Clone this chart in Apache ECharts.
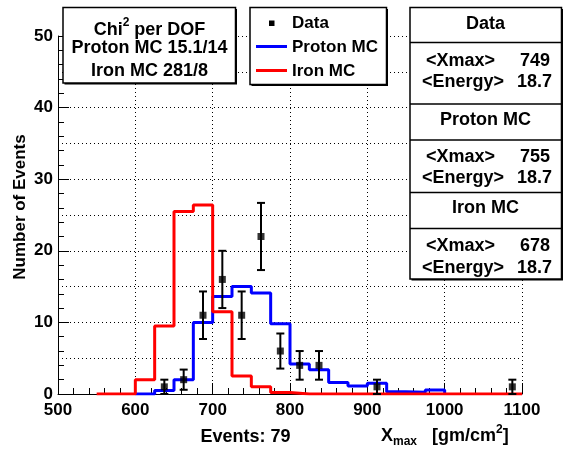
<!DOCTYPE html>
<html><head><meta charset="utf-8">
<script src="https://cdn.jsdelivr.net/npm/echarts@6/dist/echarts.min.js"></script>
<style>html,body{margin:0;padding:0;background:#fff}#c{width:571px;height:449px}</style>
</head><body><div id="c"></div>
<script>
// ---- data ----
const ironEdges   = [550,575,600,625,650,675,700,725,750,775,800,825,850,875,900,925,950,975,1000,1025,1050,1075,1100];
const ironMC      = [0,0,2,9.5,25.5,26.4,11.5,2.5,1,0.2,0,0,0,0,0,0,0,0,0,0,0,0];
const protonEdges = [600,625,650,675,700,725,750,775,800,825,850,875,900,925,950,975,1000];
const protonMC    = [0,0.5,2,10,13.6,15,14.1,9.8,4.2,3.4,1.6,1.1,1.5,0.3,0.25,0.55];
const dataX   = [637.5,662.5,687.5,712.5,737.5,762.5,787.5,812.5,837.5,912.5,1087.5];
const dataN   = [1,2,11,16,11,22,6,4,4,1,1];
const dataErr = [1,1.41,3.32,4,3.32,4.69,2.45,2,2,1,1];
const chiLines  = ['Proton MC 15.1/14','Iron MC 281/8'];
const legendNames = ['Data','Proton MC','Iron MC'];
const statsTitles = ['Data','Proton MC','Iron MC'];
const statsXmax   = ['749','755','678'];
const statsEnergy = ['18.7','18.7','18.7'];
const eventsText = 'Events: 79';

const FONT = '"Liberation Sans", Arial, Helvetica, sans-serif';
function f(sz){ return 'bold ' + sz + 'px ' + FONT; }

function stepData(edges, vals){
  const pts = vals.map((v,i)=>[edges[i], v]);
  const n = vals.length;
  pts.push([edges[n], vals[n-1]]);
  pts.push([edges[n], 0]);
  return pts;
}

const chart = echarts.init(document.getElementById('c'), null, {renderer:'canvas'});

const Z = 100;
function boxEls(x,y,w,h){
  return [
    {type:'rect', z:Z, shape:{x:x+1.5,y:y+1.5,width:w,height:h}, style:{fill:'#000'}},
    {type:'rect', z:Z+1, shape:{x:x,y:y,width:w,height:h}, style:{fill:'#fff', stroke:'#000', lineWidth:1.5}}
  ];
}
function txt(x,y,text,sz,align){
  return {type:'text', z:Z+3, style:{text:text, x:x, y:y, font:f(sz), fill:'#000', align:align||'center', verticalAlign:'middle'}};
}

const g = [];
// Chi2 box
g.push(...boxEls(63,7.5,172.5,75.5));
g.push({type:'text', z:Z+3, style:{x:149.5, y:28, align:'center', verticalAlign:'middle', fill:'#000',
  text:'{a|Chi}{s|2}{a| per DOF}',
  rich:{a:{font:f(18), lineHeight:22, verticalAlign:'bottom'}, s:{font:f(12), verticalAlign:'top'}}}});
g.push(txt(149.5,48.5,chiLines[0],18));
g.push(txt(149.5,71,chiLines[1],18));
// legend box
g.push(...boxEls(250,7.5,136.5,77));
g.push({type:'rect', z:Z+2, shape:{x:269,y:20.5,width:5.5,height:5.5}, style:{fill:'#000'}});
g.push({type:'line', z:Z+2, shape:{x1:256,y1:46.5,x2:287,y2:46.5}, style:{stroke:'#0000ff', lineWidth:3}});
g.push({type:'line', z:Z+2, shape:{x1:256,y1:70.5,x2:287,y2:70.5}, style:{stroke:'#ff0000', lineWidth:3}});
g.push(txt(292,23.5,legendNames[0],17,'left'));
g.push(txt(292,47,legendNames[1],17,'left'));
g.push(txt(292,71,legendNames[2],17,'left'));
// stats box
g.push(...boxEls(410,7.5,151.5,271.5));
[42.5,104,140,192.5,228.5].forEach(yy=>g.push({type:'line', z:Z+2, shape:{x1:410,y1:yy,x2:561.5,y2:yy}, style:{stroke:'#000', lineWidth:1.5}}));
const titleY = [24,120,208], xmY = [61,157,246.5], enY = [82.5,178,268];
for (let i=0;i<3;i++){
  g.push(txt(485.5,titleY[i],statsTitles[i],18));
  g.push(txt(426,xmY[i],'<Xmax>',18,'left'));
  g.push(txt(550,xmY[i],statsXmax[i],18,'right'));
  g.push(txt(422,enY[i],'<Energy>',18,'left'));
  g.push(txt(552,enY[i],statsEnergy[i],18,'right'));
}
// axis titles
g.push({type:'text', z:Z, x:20, y:207, rotation:Math.PI/2, style:{text:'Number of Events', x:0, y:0, font:f(17), fill:'#000', align:'center', verticalAlign:'middle'}});
g.push(txt(245.5,437,eventsText,18));
g.push({type:'text', z:Z, style:{x:381, y:436, align:'left', verticalAlign:'middle', fill:'#000',
  text:'{a|X}{b|max}{a|   [gm/cm}{s|2}{a|]}',
  rich:{a:{font:f(18), lineHeight:24, verticalAlign:'middle'}, b:{font:f(12), verticalAlign:'bottom'}, s:{font:f(12), verticalAlign:'top'}}}});

const option = {
  animation:false,
  backgroundColor:'#fff',
  grid:{left:58, right:49, top:36, bottom:55, containLabel:false},
  xAxis:{
    type:'value', min:500, max:1100, interval:100,
    axisLine:{show:true, onZero:false, lineStyle:{color:'#000', width:1}},
    axisTick:{show:true, inside:true, length:11, lineStyle:{color:'#000'}},
    minorTick:{show:true, splitNumber:5, length:6, lineStyle:{color:'#000'}},
    axisLabel:{fontSize:17, fontWeight:'bold', fontFamily:FONT, color:'#000', margin:8, showMinLabel:true, showMaxLabel:true,
      formatter:function(v){ return String(v); }},
    splitLine:{show:true, lineStyle:{color:'#000', width:1, type:[1,3]}}
  },
  yAxis:[{
    type:'value', min:0, max:50, interval:10,
    axisLine:{show:true, onZero:false, lineStyle:{color:'#000', width:1}},
    axisTick:{show:true, inside:true, length:11, lineStyle:{color:'#000'}},
    minorTick:{show:true, splitNumber:5, length:6, lineStyle:{color:'#000'}},
    axisLabel:{fontSize:17, fontWeight:'bold', fontFamily:FONT, color:'#000', margin:5},
    splitLine:{show:false}
  },{
    type:'value', min:0, max:50, interval:5, position:'left',
    axisLine:{show:false}, axisTick:{show:false}, axisLabel:{show:false},
    splitLine:{show:true, lineStyle:{color:'#000', width:1, type:[1,3]}}
  }],
  series:[
    {type:'line', step:'end', data:stepData(protonEdges, protonMC), showSymbol:false, symbol:'none',
     lineStyle:{color:'#0000ff', width:3}, z:3},
    {type:'line', step:'end', data:stepData(ironEdges, ironMC), showSymbol:false, symbol:'none',
     lineStyle:{color:'#ff0000', width:3}, z:4},
    {type:'custom', z:5, data:dataX.map((x,i)=>[x,dataN[i],dataErr[i]]), encode:{x:0,y:1},
     renderItem:function(params, api){
       const x=api.value(0), y=api.value(1), e=api.value(2);
       const t=api.coord([x,y+e]), b=api.coord([x,y-e]);
       const c=4, st={stroke:'#000', lineWidth:2};
       return {type:'group', children:[
         {type:'line', shape:{x1:t[0],y1:t[1],x2:b[0],y2:b[1]}, style:st},
         {type:'line', shape:{x1:t[0]-c,y1:t[1],x2:t[0]+c,y2:t[1]}, style:st},
         {type:'line', shape:{x1:b[0]-c,y1:b[1],x2:b[0]+c,y2:b[1]}, style:st}
       ]};
     }},
    {type:'scatter', z:6, symbol:'rect', symbolSize:7, itemStyle:{color:'#000'},
     data:dataX.map((x,i)=>[x,dataN[i]])}
  ],
  graphic:{elements:g}
};
chart.setOption(option);
</script>
</body></html>
